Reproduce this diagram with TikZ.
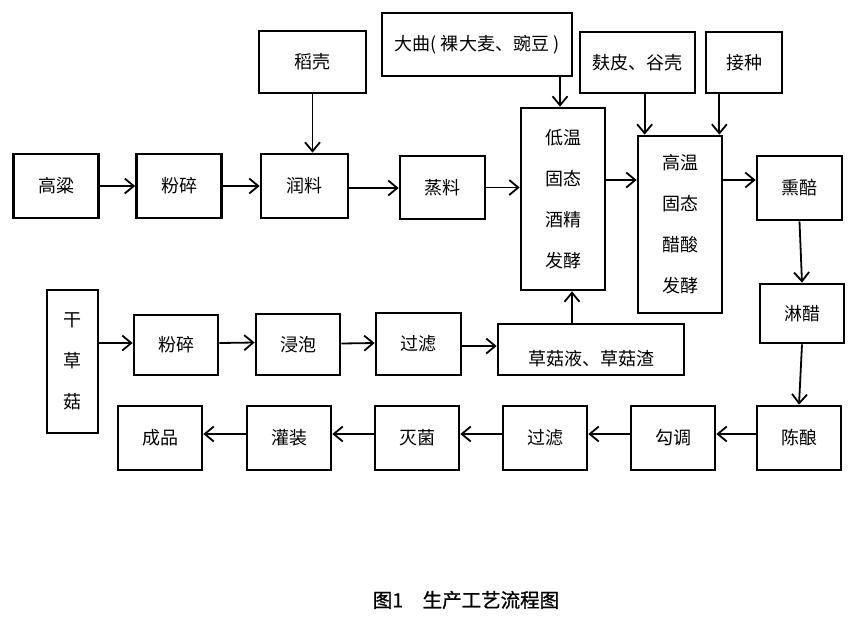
\documentclass[tikz,border=0pt]{standalone}
\usepackage{fontspec}
\setmainfont{Noto Sans CJK SC}
\newfontfamily\capfont{Noto Sans CJK SC}[FakeBold=0.9]
\usetikzlibrary{arrows.meta,calc}
\tikzset{
	proc/.style={draw, line width=2.7pt, minimum width=85pt, minimum height=64pt,
			inner sep=0pt, align=center, font=\fontsize{18}{41}\selectfont},
	flow/.style={line width=1.8pt,
			-{Straight Barb[length=9pt,width=15pt,line width=1.8pt]}}
}

\begin{document}
\begin{tikzpicture}[x=1pt,y=-1pt]
	\useasboundingbox (0,0) rectangle (856,619);
	% top row
	\node[proc] (gaoliang) at (56,186) {高粱};
	\node[proc] (fensuiA) at (179,186) {粉碎};
	\node[proc, minimum width=87pt] (runliao) at (304.5,186) {润料};
	\node[proc, minimum height=63pt] (zhengliao) at (442.5,187.5) {蒸料};
	\node[proc, minimum width=107pt, minimum height=62pt] (daoke) at (312.5,62) {稻壳};
	\node[proc, minimum width=190pt, minimum height=63pt] (daqu) at (477,44.5) {大曲( 裸大麦、豌豆 )};
	\node[proc, minimum width=84pt, minimum height=182pt] (jiujing) at (563,199)
		{低温\\固态\\酒精\\发酵};
	\node[proc, minimum width=115pt, minimum height=61pt] (fupi) at (637.5,62.5) {麸皮、谷壳};
	\node[proc, minimum width=76pt, minimum height=61pt] (jiezhong) at (744,62.5) {接种};
	\node[proc, minimum width=84pt, minimum height=177pt] (cusuan) at (680,224.5)
		{高温\\固态\\醋酸\\发酵};
	\node[proc] (xunpei) at (799.5,188) {熏醅};
	\node[proc, minimum width=84pt, minimum height=59pt] (linchu) at (802,313.5) {淋醋};
	% bottom row
	\node[proc, minimum width=84pt] (chenniang) at (799,438) {陈酿};
	\node[proc, minimum width=84pt] (goutiao) at (673,438) {勾调};
	\node[proc, minimum width=84pt] (guolvB) at (545,438) {过滤};
	\node[proc, minimum width=84pt] (miejun) at (417,438) {灭菌};
	\node[proc, minimum width=84pt] (guanzhuang) at (289,438) {灌装};
	\node[proc, minimum width=84pt] (chengpin) at (160,438) {成品};
	% mushroom row
	\node[proc, minimum width=51pt, minimum height=143pt] (caogu) at (72.5,361.5)
		{干\\草\\菇};
	\node[proc, minimum width=84pt, minimum height=60pt] (fensuiB) at (176,345) {粉碎};
	\node[proc, minimum width=84pt, minimum height=61pt] (jinpao) at (298,344.5) {浸泡};
	\node[proc, minimum height=62pt] (guolvA) at (418.5,344) {过滤};
	\node[proc, minimum width=186pt, minimum height=51pt, text height=34pt] (guye) at (591,349.5)
		{草菇液、草菇渣};
	\node (caption) at (466,600) {\fontsize{19.5}{23}\selectfont\capfont 图1\quad 生产工艺流程图};

	\draw[flow] (gaoliang) -- (fensuiA);
	\draw[flow] (fensuiA) -- (runliao);
	\draw[flow] ([yshift=-2pt]runliao.east) -- ([yshift=-2pt]runliao.east -| zhengliao.west);
	\draw[flow] (zhengliao.east) -- (zhengliao.east -| jiujing.west);
	\draw[flow] (daoke.south) -- (daoke.south |- runliao.north);
	\draw[flow] ([xshift=-3pt]jiujing.north |- daqu.south) -- ([xshift=-3pt]jiujing.north);
	\draw[flow] ([xshift=8pt]cusuan.north west |- fupi.south) -- ([xshift=8pt]cusuan.north west);
	\draw[flow] ([xshift=-4pt]cusuan.north east |- jiezhong.south) -- ([xshift=-4pt]cusuan.north east);
	\draw[flow] ([yshift=19pt]jiujing.east) -- ([yshift=19pt]jiujing.east -| cusuan.west);
	\draw[flow] ([yshift=8pt]xunpei.west -| cusuan.east) -- ([yshift=8pt]xunpei.west);
	\draw[flow] (xunpei.south) -- (linchu.north);
	\draw[flow] (linchu.south) -- (chenniang.north);
	\draw[flow] ([yshift=4pt]chenniang.west) -- ([yshift=4pt]goutiao.east);
	\draw[flow] ([yshift=4pt]goutiao.west) -- ([yshift=4pt]guolvB.east);
	\draw[flow] ([yshift=4pt]guolvB.west) -- ([yshift=4pt]miejun.east);
	\draw[flow] ([yshift=4pt]miejun.west) -- ([yshift=4pt]guanzhuang.east);
	\draw[flow] ([yshift=4pt]guanzhuang.west) -- ([yshift=4pt]chengpin.east);
	\draw[flow] ([yshift=2pt]caogu.east |- fensuiB.west) -- ([yshift=2pt]fensuiB.west);
	\draw[flow] ([yshift=2pt]fensuiB.east) -- ([yshift=2pt]jinpao.west);
	\draw[flow] ([yshift=1pt]jinpao.east) -- ([yshift=1pt]guolvA.west);
	\draw[flow] ([yshift=-2pt]guolvA.east) -- ([yshift=-2pt]guolvA.east -| guye.west);
	\draw[flow] ([xshift=9pt]jiujing.south |- guye.north) -- ([xshift=9pt]jiujing.south);
\end{tikzpicture}
\end{document}
